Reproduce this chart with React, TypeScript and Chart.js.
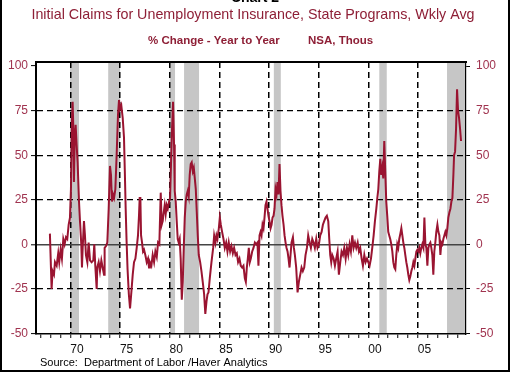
import React, { useEffect, useRef } from 'react';
import { Chart, registerables } from 'chart.js';

Chart.register(...registerables);

// ---- Data ----
const years = [
  1967.93, 1968.10, 1968.20, 1968.34, 1968.44, 1968.61, 1968.77, 1968.87, 1969.01, 1969.14,
  1969.28, 1969.41, 1969.55, 1969.68, 1969.82, 1969.95, 1970.05, 1970.15, 1970.22, 1970.29,
  1970.35, 1970.42, 1970.52, 1970.62, 1970.72, 1970.86, 1970.96, 1971.09, 1971.16, 1971.23,
  1971.36, 1971.46, 1971.56, 1971.70, 1971.83, 1971.97, 1972.13, 1972.30, 1972.40, 1972.50,
  1972.64, 1972.70, 1972.84, 1972.97, 1973.11, 1973.24, 1973.38, 1973.44, 1973.58, 1973.71,
  1973.85, 1973.98, 1974.08, 1974.18, 1974.28, 1974.39, 1974.52, 1974.65, 1974.79, 1974.89,
  1974.99, 1975.12, 1975.26, 1975.39, 1975.47, 1975.56, 1975.65, 1975.75, 1975.88, 1976.00,
  1976.13, 1976.27, 1976.40, 1976.54, 1976.67, 1976.80, 1976.90, 1976.97, 1977.04, 1977.11,
  1977.21, 1977.31, 1977.41, 1977.54, 1977.68, 1977.81, 1977.91, 1978.00, 1978.15, 1978.28,
  1978.42, 1978.55, 1978.69, 1978.82, 1978.95, 1979.09, 1979.19, 1979.29, 1979.39, 1979.49,
  1979.59, 1979.69, 1979.80, 1979.93, 1980.03, 1980.13, 1980.23, 1980.33, 1980.43, 1980.50,
  1980.60, 1980.70, 1980.80, 1980.90, 1981.00, 1981.10, 1981.21, 1981.31, 1981.41, 1981.51,
  1981.61, 1981.71, 1981.81, 1981.91, 1982.01, 1982.11, 1982.21, 1982.32, 1982.42, 1982.52,
  1982.62, 1982.72, 1982.82, 1982.92, 1983.06, 1983.19, 1983.32, 1983.46, 1983.58, 1983.70,
  1983.80, 1983.90, 1984.03, 1984.20, 1984.37, 1984.47, 1984.60, 1984.70, 1984.80, 1984.94,
  1985.04, 1985.14, 1985.27, 1985.41, 1985.54, 1985.68, 1985.81, 1985.94, 1986.08, 1986.21,
  1986.35, 1986.48, 1986.62, 1986.75, 1986.88, 1987.02, 1987.15, 1987.29, 1987.42, 1987.56,
  1987.66, 1987.76, 1987.86, 1987.96, 1988.06, 1988.16, 1988.30, 1988.43, 1988.57, 1988.70,
  1988.83, 1988.93, 1989.04, 1989.14, 1989.24, 1989.34, 1989.44, 1989.54, 1989.64, 1989.74,
  1989.84, 1989.94, 1990.04, 1990.15, 1990.25, 1990.35, 1990.45, 1990.55, 1990.65, 1990.75,
  1990.85, 1990.95, 1991.05, 1991.15, 1991.25, 1991.35, 1991.46, 1991.56, 1991.66, 1991.76,
  1991.86, 1991.96, 1992.06, 1992.16, 1992.26, 1992.40, 1992.50, 1992.60, 1992.73, 1992.87,
  1993.00, 1993.14, 1993.27, 1993.40, 1993.54, 1993.67, 1993.81, 1993.94, 1994.08, 1994.21,
  1994.35, 1994.48, 1994.61, 1994.75, 1994.88, 1995.02, 1995.15, 1995.29, 1995.42, 1995.55,
  1995.69, 1995.82, 1995.96, 1996.06, 1996.16, 1996.26, 1996.36, 1996.50, 1996.63, 1996.76,
  1996.90, 1997.03, 1997.17, 1997.30, 1997.44, 1997.57, 1997.71, 1997.84, 1997.97, 1998.11,
  1998.24, 1998.38, 1998.51, 1998.65, 1998.78, 1998.92, 1999.05, 1999.18, 1999.32, 1999.45,
  1999.59, 1999.72, 1999.86, 1999.99, 2000.12, 2000.26, 2000.39, 2000.53, 2000.66, 2000.80,
  2000.90, 2001.00, 2001.10, 2001.20, 2001.30, 2001.40, 2001.50, 2001.60, 2001.70, 2001.80,
  2001.90, 2002.00, 2002.10, 2002.20, 2002.31, 2002.41, 2002.51, 2002.61, 2002.71, 2002.81,
  2002.91, 2003.01, 2003.11, 2003.22, 2003.32, 2003.42, 2003.52, 2003.62, 2003.72, 2003.82,
  2003.92, 2004.02, 2004.12, 2004.22, 2004.33, 2004.43, 2004.53, 2004.63, 2004.73, 2004.83,
  2004.93, 2005.03, 2005.13, 2005.23, 2005.33, 2005.43, 2005.54, 2005.64, 2005.74, 2005.84,
  2005.94, 2006.04, 2006.14, 2006.24, 2006.34, 2006.44, 2006.54, 2006.64, 2006.74, 2006.84,
  2006.95, 2007.05, 2007.15, 2007.25, 2007.35, 2007.45, 2007.55, 2007.65, 2007.75, 2007.85,
  2007.95, 2008.05, 2008.16, 2008.26, 2008.36, 2008.46, 2008.56, 2008.63, 2008.73, 2008.83,
  2008.93, 2009.03, 2009.13, 2009.23, 2009.33,
];

const claimsYoY = [
  6, -25, -15, -17, -10, -12, -5, -10, -3, -8,
  3, 0, 4, 3, 11, 15, 31, 69, 80, 65,
  35, 56, 67, 56, 46, 24, 13, 0, -13, -2,
  13, 5, -6, -10, 1, -9, -10, -9, 0, -12,
  -25, -13, -10, -15, -9, -13, -17, -2, -1, 1,
  20, 44, 39, 24, 28, 26, 31, 50, 73, 81,
  76, 78, 71, 60, 42, 20, 2, -14, -28, -36,
  -27, -17, -10, -8, -2, 5, 16, 26, 26, 5,
  1, -4, -3, -6, -10, -8, -13, -10, -12, -6,
  -10, -4, -7, 1, 0, 29, 11, 13, 18, 22,
  17, 22, 20, 24, 26, 46, 65, 80, 56, 30,
  24, 13, 3, 1, 3, -8, -31, -21, -2, 15,
  24, 28, 30, 27, 39, 45, 46, 41, 43, 37,
  31, 18, 5, -6, -10, -15, -21, -28, -39, -32,
  -28, -27, -19, -10, -2, 5, 1, 5, 3, 9,
  15, 11, 7, 3, -2, 1, -4, 1, -4, -1,
  -5, -2, -6, -5, -10, -8, -12, -13, -12, -19,
  -21, -13, -8, -2, -10, -8, -4, -2, 1, 0,
  1, -12, 5, 7, 5, 11, 9, 15, 22, 24,
  20, 16, 13, 9, 11, 15, 16, 20, 31, 28,
  35, 28, 45, 30, 22, 16, 11, 5, 1, -2,
  -4, -8, -13, -6, 1, 4, -2, -6, -13, -27,
  -21, -17, -13, -15, -13, -6, -2, 5, 1, -2,
  3, 1, -2, 3, -2, 0, 5, 7, 11, 13,
  15, 16, 13, 3, -6, -10, -6, -8, -12, -8,
  -4, -17, -10, -4, -6, -2, -8, -2, -6, 0,
  -4, 5, -2, 1, -2, 1, -4, -2, -8, -12,
  -6, -10, -8, -10, -12, -8, -2, 5, 13, 20,
  26, 31, 41, 48, 39, 43, 37, 58, 41, 24,
  16, 7, 5, 3, 0, -4, -10, -13, -14, -6,
  0, -2, 3, 6, 9, 5, 1, -2, -6, -10,
  -13, -17, -20, -18, -15, -13, -10, -12, -8, -4,
  -3, -4, -2, -5, -2, 0, -2, 15, 0, -2,
  -12, -2, 0, 1, -2, -6, -17, -4, 1, 7,
  11, 7, 5, -6, 1, 0, 3, 5, 7, 5,
  9, 15, 18, 20, 24, 26, 39, 50, 52, 65,
  87, 75, 71, 65, 58,
];

const recessionStarts = [1969.96, 1973.80, 1980.00, 1981.44, 1990.48, 2001.10, 2007.92];
const recessionEnds = [1970.86, 1975.00, 1980.53, 1982.95, 1991.18, 2001.85, 2009.83];

const xMin = 1966.53;
const xMax = 2009.83;
const yMin = -50.3;
const yMax = 102.3;

const titleText = 'Initial Claims for Unemployment Insurance, State Programs, Wkly Avg';
const subtitleLeft = '% Change - Year to Year';
const subtitleRight = 'NSA, Thous';
const sourceText = 'Source:  Department of Labor /Haver Analytics';
const chartLabel = 'Chart 2';

const FONT = '"Liberation Sans", Arial, Helvetica, sans-serif';
const RED_TEXT = '#8e1f36';
const TICK_RED = '#a0334f';
const LINE_RED = '#9a1431';

const decorPlugin = {
  id: 'decor',
  beforeDraw(chart: any) {
    const { ctx, chartArea: a, scales } = chart;
    const x = scales.x;
    ctx.save();
    ctx.fillStyle = '#c6c6c6';
    recessionStarts.forEach((s, i) => {
      const x1 = Math.max(a.left, x.getPixelForValue(s));
      const x2 = Math.min(a.right, x.getPixelForValue(recessionEnds[i]));
      ctx.fillRect(x1, a.top, x2 - x1, a.bottom - a.top);
    });
    ctx.restore();
  },
  afterDraw(chart: any) {
    const { ctx, chartArea: a, width, height } = chart;
    ctx.save();
    ctx.strokeStyle = '#000';
    ctx.lineWidth = 2;
    ctx.beginPath();
    ctx.moveTo(a.left - 1, a.top);
    ctx.lineTo(a.right + 1, a.top);
    ctx.stroke();

    ctx.fillStyle = '#000';
    ctx.font = 'bold 14px ' + FONT;
    ctx.textAlign = 'center';
    ctx.textBaseline = 'alphabetic';
    ctx.fillText(chartLabel, 255, 2);

    ctx.fillStyle = RED_TEXT;
    ctx.font = '14.3px ' + FONT;
    ctx.textBaseline = 'middle';
    ctx.fillText(titleText, 253, 15);

    ctx.font = 'bold 11.5px ' + FONT;
    ctx.textAlign = 'left';
    ctx.fillText(subtitleLeft, 148, 41);
    ctx.fillText(subtitleRight, 308, 41);

    ctx.fillStyle = '#000';
    ctx.font = '11px ' + FONT;
    ctx.fillText(sourceText, 40, 363);

    ctx.strokeStyle = '#000';
    ctx.lineWidth = 2;
    ctx.beginPath();
    ctx.moveTo(1, 0);
    ctx.lineTo(1, height - 1);
    ctx.lineTo(width - 1, height - 1);
    ctx.lineTo(width - 1, 0);
    ctx.stroke();
    ctx.restore();
  },
};

export default function App() {
  const canvasRef = useRef<HTMLCanvasElement | null>(null);

  useEffect(() => {
    const canvas = canvasRef.current;
    if (!canvas) return;
    Chart.defaults.font.family = FONT;

    const points = years.map((yr, i) => ({ x: yr, y: claimsYoY[i] }));

    const chart = new Chart(canvas, {
      type: 'line',
      data: {
        datasets: [
          {
            data: points,
            borderColor: LINE_RED,
            borderWidth: 2,
            pointRadius: 0,
            tension: 0,
            fill: false,
            yAxisID: 'y',
          },
        ],
      },
      options: {
        responsive: false,
        animation: false,
        devicePixelRatio: 1,
        layout: { padding: { top: 62, left: 0, right: 0, bottom: 0 } },
        plugins: {
          legend: { display: false },
          tooltip: { enabled: false },
          title: { display: false },
        },
        scales: {
          x: {
            type: 'linear',
            position: 'bottom',
            min: xMin,
            max: xMax,
            afterFit: (s: any) => {
              s.height = 38;
            },
            ticks: {
              stepSize: 1,
              autoSkip: false,
              includeBounds: false,
              maxRotation: 0,
              minRotation: 0,
              labelOffset: 6.5,
              padding: 4,
              color: '#111',
              font: { size: 12, family: FONT },
              callback: (v: any) => {
                const n = Math.round(Number(v));
                return n % 5 === 0 ? String(n % 100).padStart(2, '0') : '';
              },
            },
            grid: {
              color: (c: any) => (c.tick && Math.round(c.tick.value) % 5 === 0 ? '#000' : 'rgba(0,0,0,0)'),
              lineWidth: 1.5,
              drawTicks: true,
              tickLength: 4,
              tickColor: '#000',
              tickWidth: 1,
              tickBorderDash: [],
            },
            border: { display: true, color: '#000', width: 1.5, dash: [6, 4] },
          },
          y: {
            type: 'linear',
            position: 'left',
            min: yMin,
            max: yMax,
            afterFit: (s: any) => {
              s.width = 36;
            },
            ticks: {
              stepSize: 25,
              includeBounds: false,
              autoSkip: false,
              padding: 3,
              color: TICK_RED,
              font: { size: 12, family: FONT },
              callback: (v: any) => String(Math.round(Number(v))),
            },
            grid: {
              color: (c: any) => {
                const v = c.tick ? Math.round(c.tick.value) : null;
                if (v === 0) return '#444';
                if (v === 100 || v === -50) return 'rgba(0,0,0,0)';
                return '#000';
              },
              lineWidth: (c: any) => (c.tick && Math.round(c.tick.value) === 0 ? 1.6 : 1.2),
              drawTicks: true,
              tickLength: 5,
              tickColor: '#000',
              tickWidth: 1,
              tickBorderDash: [],
            },
            border: {
              display: true,
              color: '#000',
              width: 2,
              dash: (c: any) => (c.tick && Math.round(c.tick.value) === 0 ? [] : [6, 4]),
            },
          },
          y2: {
            type: 'linear',
            position: 'right',
            min: yMin,
            max: yMax,
            afterFit: (s: any) => {
              s.width = 44;
            },
            ticks: {
              stepSize: 25,
              includeBounds: false,
              autoSkip: false,
              padding: 6,
              color: TICK_RED,
              font: { size: 12, family: FONT },
              callback: (v: any) => String(Math.round(Number(v))),
            },
            grid: {
              drawOnChartArea: false,
              drawTicks: true,
              tickLength: 4,
              tickColor: '#000',
              tickWidth: 1,
            },
            border: { display: true, color: '#000', width: 1.2 },
          },
        },
      },
      plugins: [decorPlugin],
    } as any);

    return () => {
      chart.destroy();
    };
  }, []);

  return (
    <div style={{ position: 'absolute', left: 0, top: 0, width: 510, height: 372, background: '#fff' }}>
      <canvas ref={canvasRef} width={510} height={372} style={{ display: 'block', width: 510, height: 372 }} />
    </div>
  );
}
